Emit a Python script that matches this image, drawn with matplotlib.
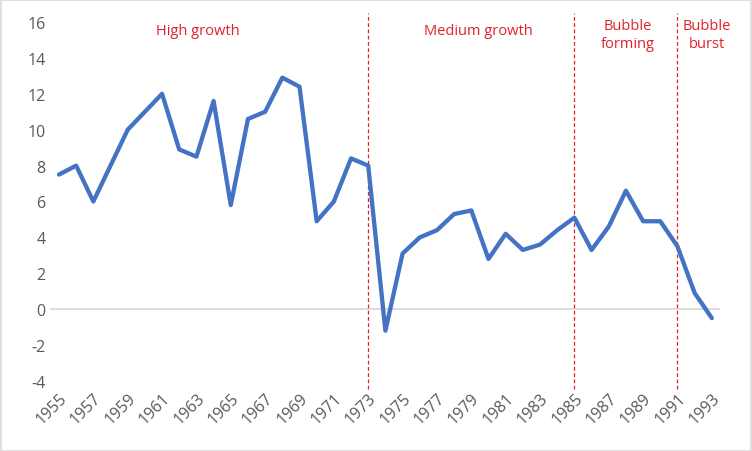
import numpy as np
import matplotlib
matplotlib.use('Agg')
import matplotlib.pyplot as plt
from matplotlib.patches import Rectangle

# Data
years = list(range(1955, 1994))
growth = [7.5, 8.0, 6.0, 8.0, 10.0, 11.0, 12.0, 8.9, 8.5, 11.6,
          5.8, 10.6, 11.0, 12.9, 12.4, 4.9, 6.0, 8.4, 8.0, -1.2,
          3.1, 4.0, 4.4, 5.3, 5.5, 2.8, 4.2, 3.3, 3.6, 4.4,
          5.1, 3.3, 4.6, 6.6, 4.9, 4.9, 3.5, 0.9, -0.5]
period_breaks = [1973, 1985, 1991]
period_labels = ["High growth", "Medium growth", "Bubble\nforming", "Bubble\nburst"]
label_x = [1963.1, 1979.4, 1988.1, 1992.7]

plt.rcParams['font.family'] = ['Open Sans', 'DejaVu Sans']
plt.rcParams['axes.unicode_minus'] = False

fig = plt.figure(figsize=(7.52, 4.52), dpi=100)
ax = fig.add_axes([0.067, 0.155, 0.891, 0.794])

ax.axhline(0, color='#d9d9d9', lw=1.3, zorder=1)
ax.plot(years, growth, color='#4472c4', lw=3.1, solid_joinstyle='round',
        solid_capstyle='round', zorder=3)

for yr in period_breaks:
    ax.plot([yr, yr], [-4.45, 16.5], color='#e0202a', lw=0.9, ls=(0, (3, 2)),
            clip_on=False, zorder=2)

for lx, txt in zip(label_x, period_labels):
    ax.text(lx, 15.55 if '\n' not in txt else 15.3, txt, color='#e0202a', fontsize=10.5,
            ha='center', va='center', linespacing=1.25)

ax.set_xlim(1954.5, 1993.5)
ax.set_ylim(-4, 16)
ax.set_yticks(np.arange(-4, 17, 2))
ax.set_xticks(years[::2])
ax.set_xticklabels([str(y) for y in years[::2]], rotation=45, ha='right',
                   rotation_mode='anchor')
ax.tick_params(length=0, labelsize=11.5, colors='#595959')
ax.tick_params(axis='x', pad=6)
for s in ax.spines.values():
    s.set_visible(False)

fig.patches.append(Rectangle((0.001, 0.001), 0.998, 0.997, transform=fig.transFigure,
                             fill=False, edgecolor='#d9d9d9', lw=1.2))

fig.savefig('out.png', dpi=100)
